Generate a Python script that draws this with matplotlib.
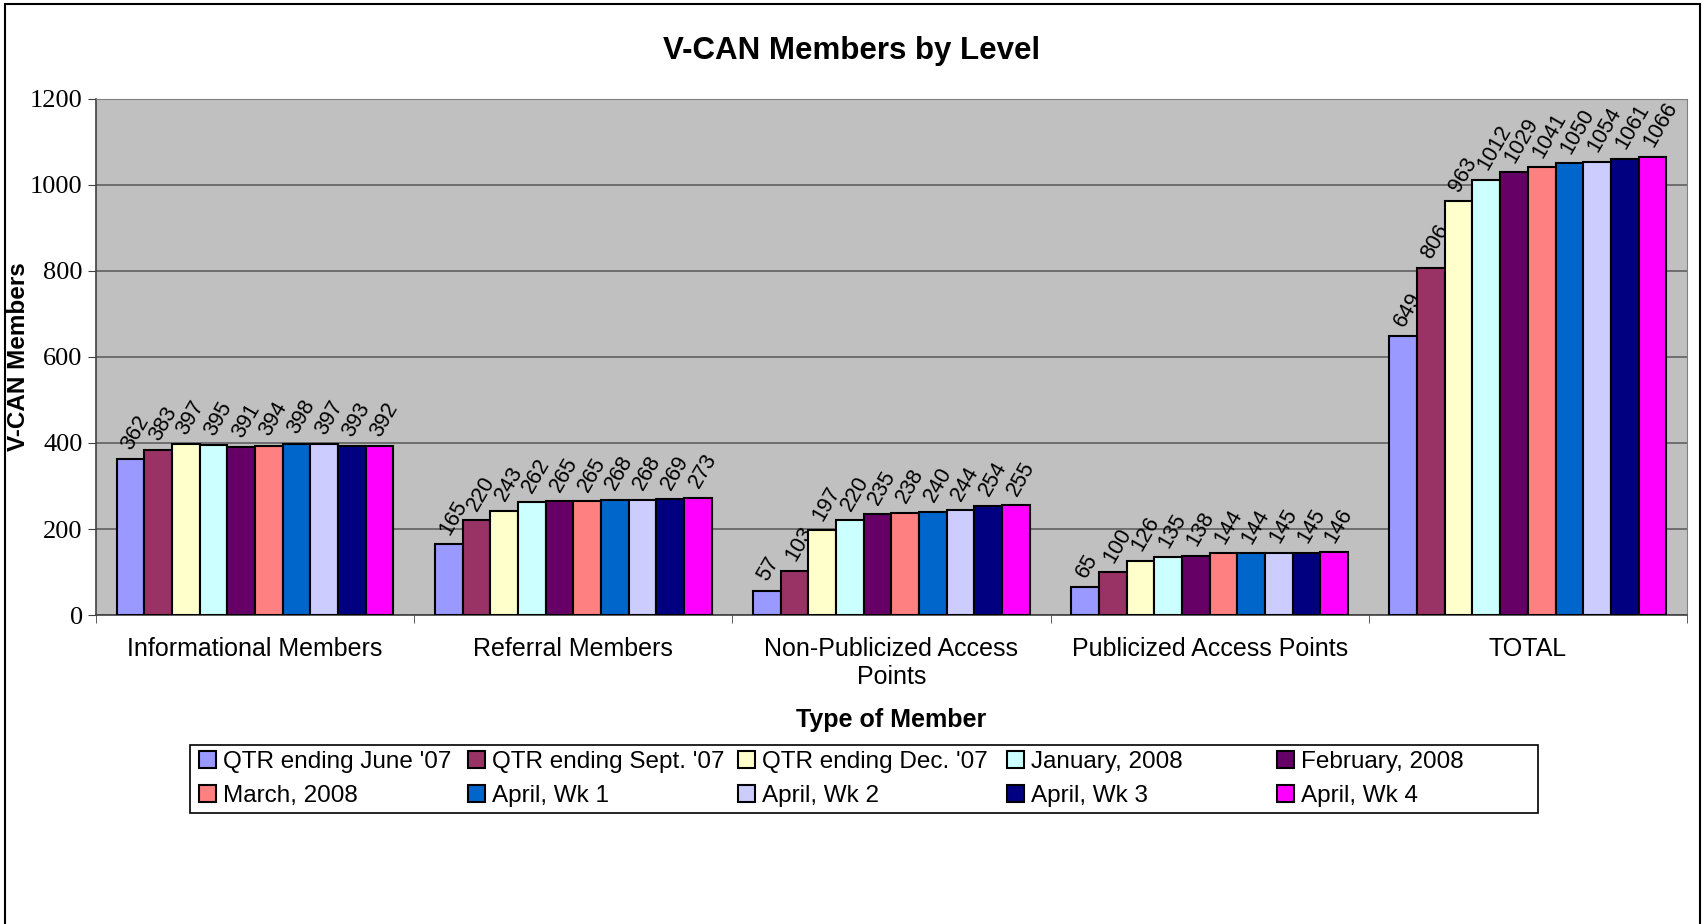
import numpy as np
import matplotlib
matplotlib.use('Agg')
import matplotlib.pyplot as plt
from matplotlib.patches import Rectangle

plt.rcParams['font.family'] = ['Liberation Sans', 'DejaVu Sans']

# 数据
categories = ['Informational Members', 'Referral Members', 'Non-Publicized Access\nPoints',
              'Publicized Access Points', 'TOTAL']
series = ["QTR ending June '07", "QTR ending Sept. '07", "QTR ending Dec. '07",
          'January, 2008', 'February, 2008', 'March, 2008',
          'April, Wk 1', 'April, Wk 2', 'April, Wk 3', 'April, Wk 4']
colors = ['#9999FF', '#993366', '#FFFFCC', '#CCFFFF', '#660066',
          '#FF8080', '#0066CC', '#CCCCFF', '#000080', '#FF00FF']
informational = [362, 383, 397, 395, 391, 394, 398, 397, 393, 392]
referral = [165, 220, 243, 262, 265, 265, 268, 268, 269, 273]
non_publicized = [57, 103, 197, 220, 235, 238, 240, 244, 254, 255]
publicized = [65, 100, 126, 135, 138, 144, 144, 145, 145, 146]
total = [649, 806, 963, 1012, 1029, 1041, 1050, 1054, 1061, 1066]
values = np.array([informational, referral, non_publicized, publicized, total])

W, H = 1704, 924
fig = plt.figure(figsize=(W / 100, H / 100), dpi=100)
ax = fig.add_axes([0.0563, 0.3344, 0.9337, 0.5585])
ax.set_facecolor('#C0C0C0')

x = np.arange(len(categories))
w = 0.087
bars = []
for j in range(len(series)):
    pos = x - 5 * w + (j + 0.5) * w
    b = ax.bar(pos, values[:, j], width=w, color=colors[j], edgecolor='black',
               linewidth=1.5, label=series[j], zorder=3)
    bars.append(b)
    for px, v in zip(pos, values[:, j]):
        ax.annotate(str(v), (px, v), xytext=(-3, 8), textcoords='offset points',
                    rotation=60, rotation_mode='anchor', ha='left', va='center',
                    fontsize=15.5)

ax.set_xlim(-0.5, 4.5)
ax.set_ylim(0, 1200)
ax.set_yticks(range(0, 1201, 200))
for lab in ax.get_yticklabels():
    lab.set_family('Liberation Serif')
    lab.set_fontsize(19)
ax.yaxis.grid(True, color='#606060', linewidth=1.2, zorder=0)
ax.set_xticks(x)
ax.set_xticklabels(categories, fontsize=18)
ax.tick_params(axis='x', length=0, pad=16)
ax.set_xticks(np.arange(-0.5, 5, 1), minor=True)
ax.tick_params(axis='x', which='minor', length=6, color='#404040')
ax.tick_params(axis='y', length=6, color='#404040')
for s in ['top', 'right']:
    ax.spines[s].set_color('#808080')
for s in ['left', 'bottom']:
    ax.spines[s].set_color('#404040')
    ax.spines[s].set_linewidth(1.2)

ax.set_xlabel('Type of Member', fontsize=18, fontweight='bold', labelpad=14)
ax.set_ylabel('V-CAN Members', fontsize=17.5, fontweight='bold', labelpad=0)
fig.text(0.5, 0.945, 'V-CAN Members by Level', ha='center', va='center',
         fontsize=22.5, fontweight='bold')

# 图例：5列等宽，按行排列
col_x = [199, 468, 738, 1007, 1277]
for c in range(5):
    leg = fig.legend([bars[c], bars[c + 5]], [series[c], series[c + 5]],
                     loc='center left', bbox_to_anchor=(col_x[c] / W, 1 - 779 / H),
                     ncol=1, fontsize=17.5, frameon=False,
                     handlelength=0.7, handleheight=0.7, handletextpad=0.3,
                     borderaxespad=0, borderpad=0, labelspacing=0.47)
fig.patches.append(Rectangle((190 / W, 1 - 813 / H), 1348 / W, 68 / H,
                             transform=fig.transFigure, fill=False,
                             edgecolor='black', linewidth=1.2))

fig.patches.append(Rectangle((5 / W, -0.05), 1695 / W, 1.05 - 4 / H,
                             transform=fig.transFigure, fill=False,
                             edgecolor='black', linewidth=1.5))

fig.savefig('out.png', dpi=100)
